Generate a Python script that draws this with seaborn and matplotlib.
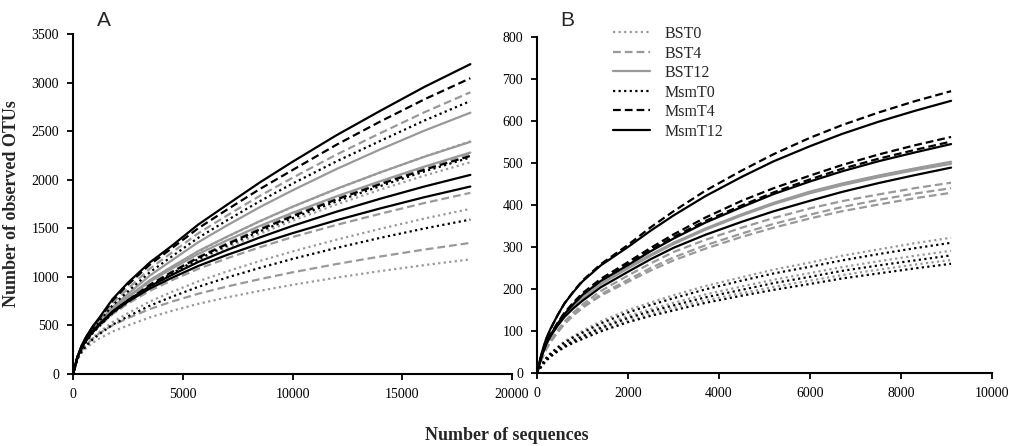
import pandas as pd
import seaborn as sns
import numpy as np
import matplotlib.pyplot as plt

# rarefaction curves
groups = ['BST0', 'BST4', 'BST12', 'MsmT0', 'MsmT4', 'MsmT12']

seqs_a = [0, 200, 400, 600, 900, 1200, 1800, 2500, 3500, 4500, 5700, 7000, 8500, 10000,
          12000, 14000, 16000, 18100]
curves_a = {
    'BST0': [[0, 170, 274, 350, 444, 520, 663, 790, 960, 1100, 1261, 1410, 1571, 1720, 1905, 2075, 2238, 2395],
             [0, 168, 265, 335, 420, 490, 620, 736, 891, 1017, 1163, 1297, 1443, 1578, 1745, 1899, 2042, 2180],
             [0, 160, 244, 305, 375, 432, 534, 625, 746, 845, 954, 1055, 1163, 1262, 1383, 1495, 1600, 1700],
             [0, 150, 220, 270, 322, 365, 437, 500, 583, 650, 722, 788, 856, 918, 992, 1060, 1121, 1180]],
    'BST4': [[0, 175, 288, 370, 475, 560, 730, 880, 1084, 1250, 1448, 1630, 1833, 2020, 2259, 2480, 2694, 2900],
             [0, 170, 272, 345, 433, 505, 640, 760, 922, 1055, 1206, 1345, 1498, 1640, 1813, 1972, 2124, 2270],
             [0, 168, 271, 345, 428, 495, 617, 725, 857, 965, 1082, 1190, 1304, 1410, 1535, 1650, 1760, 1865],
             [0, 160, 241, 300, 366, 420, 502, 575, 669, 745, 826, 900, 976, 1047, 1132, 1210, 1281, 1350]],
    'BST12': [[0, 172, 278, 355, 454, 535, 688, 823, 1014, 1170, 1356, 1528, 1717, 1891, 2110, 2313, 2505, 2690],
              [0, 172, 278, 355, 449, 525, 668, 795, 966, 1105, 1265, 1412, 1573, 1722, 1906, 2076, 2236, 2390],
              [0, 172, 278, 355, 449, 525, 665, 790, 952, 1085, 1236, 1375, 1523, 1660, 1829, 1985, 2135, 2280]],
    'MsmT0': [[0, 172, 281, 360, 462, 545, 707, 850, 1048, 1210, 1402, 1580, 1778, 1960, 2189, 2400, 2609, 2810],
              [0, 165, 264, 335, 423, 495, 628, 745, 905, 1035, 1183, 1320, 1468, 1605, 1777, 1935, 2085, 2230],
              [0, 158, 235, 290, 357, 411, 507, 593, 704, 795, 897, 992, 1092, 1185, 1298, 1402, 1498, 1590]],
    'MsmT4': [[0, 176, 293, 378, 485, 572, 756, 920, 1126, 1295, 1500, 1690, 1903, 2100, 2360, 2600, 2827, 3045],
              [0, 172, 272, 345, 433, 505, 639, 758, 918, 1048, 1198, 1336, 1486, 1625, 1797, 1955, 2103, 2245]],
    'MsmT12': [[0, 178, 298, 385, 492, 580, 771, 940, 1149, 1320, 1538, 1740, 1971, 2185, 2458, 2710, 2955, 3190],
               [0, 172, 278, 355, 443, 515, 645, 760, 903, 1020, 1153, 1275, 1405, 1525, 1671, 1805, 1930, 2050],
               [0, 172, 275, 350, 435, 505, 632, 745, 880, 990, 1112, 1225, 1342, 1450, 1583, 1705, 1820, 1930]],
}

seqs_b = [0, 100, 200, 300, 450, 600, 800, 1000, 1400, 2000, 2500, 3000, 3700, 4500, 5200,
          6000, 6700, 7500, 8300, 9100]
curves_b = {
    'BST0': [[0, 20, 36, 48, 62, 75, 88, 100, 123, 150, 168, 185, 207, 228, 246, 263, 279, 294, 309, 322],
             [0, 18, 33, 43, 56, 68, 80, 90, 111, 136, 152, 167, 187, 206, 222, 238, 252, 266, 279, 291],
             [0, 17, 30, 40, 52, 63, 74, 84, 103, 125, 141, 155, 173, 190, 205, 220, 233, 246, 258, 269]],
    'BST4': [[0, 33, 59, 78, 101, 122, 144, 163, 195, 232, 261, 288, 317, 346, 369, 392, 409, 425, 440, 453],
             [0, 32, 57, 75, 98, 118, 139, 158, 187, 222, 250, 275, 304, 332, 355, 377, 395, 412, 427, 440],
             [0, 32, 56, 74, 96, 116, 137, 155, 184, 217, 244, 268, 296, 324, 346, 368, 385, 401, 416, 429]],
    'BST12': [[0, 40, 69, 90, 115, 137, 160, 180, 213, 252, 282, 310, 344, 378, 405, 432, 451, 470, 487, 503],
              [0, 39, 67, 88, 113, 135, 158, 178, 211, 249, 279, 307, 341, 375, 402, 428, 447, 466, 483, 498]],
    'MsmT0': [[0, 19, 35, 46, 60, 72, 85, 96, 118, 144, 162, 178, 199, 220, 237, 253, 268, 283, 297, 310],
              [0, 17, 32, 42, 54, 65, 77, 87, 107, 131, 147, 161, 180, 198, 214, 229, 243, 256, 268, 280],
              [0, 16, 29, 39, 51, 61, 72, 81, 99, 121, 136, 149, 167, 184, 198, 212, 225, 237, 249, 260]],
    'MsmT4': [[0, 45, 80, 105, 137, 165, 194, 220, 259, 305, 347, 385, 434, 482, 521, 560, 590, 620, 647, 671],
              [0, 40, 70, 92, 119, 143, 168, 190, 224, 264, 298, 330, 370, 410, 440, 470, 495, 520, 542, 562],
              [0, 40, 69, 90, 117, 140, 165, 187, 220, 259, 293, 324, 362, 399, 430, 461, 486, 510, 531, 551]],
    'MsmT12': [[0, 46, 81, 106, 137, 165, 193, 218, 256, 300, 339, 375, 421, 467, 504, 540, 569, 598, 624, 648],
               [0, 41, 70, 91, 117, 140, 164, 186, 219, 257, 290, 320, 358, 395, 426, 456, 480, 504, 525, 545],
               [0, 40, 68, 88, 112, 133, 154, 172, 204, 241, 271, 298, 329, 360, 385, 410, 431, 452, 471, 489]],
}


def to_frame(seqs, curves):
    rows = []
    for g in groups:
        for i, ys in enumerate(curves[g]):
            for x, y in zip(seqs, ys):
                rows.append({'seqs': x, 'otus': y, 'group': g, 'rep': f'{g}_{i}'})
    return pd.DataFrame(rows)


dfa = to_frame(seqs_a, curves_a)
dfb = to_frame(seqs_b, curves_b)

gray = '#999999'
pal = {'BST0': gray, 'BST4': gray, 'BST12': gray,
       'MsmT0': 'black', 'MsmT4': 'black', 'MsmT12': 'black'}
dash_map = {'BST0': (1, 1.5), 'BST4': (3.5, 1.8), 'BST12': '',
            'MsmT0': (1, 1.5), 'MsmT4': (3.5, 1.8), 'MsmT12': ''}

sns.set_style('ticks')
plt.rcParams['font.family'] = ['Liberation Serif', 'DejaVu Serif']

fig = plt.figure(figsize=(10.13, 4.46), dpi=100)
ax1 = fig.add_axes([0.0721, 0.1614, 0.4334, 0.7623])
ax2 = fig.add_axes([0.5301, 0.1637, 0.4492, 0.7534])

sns.lineplot(data=dfa, x='seqs', y='otus', hue='group', style='group', units='rep',
             estimator=None, hue_order=groups, style_order=groups, palette=pal,
             dashes=dash_map, linewidth=1.6, legend=False, ax=ax1)
sns.lineplot(data=dfb, x='seqs', y='otus', hue='group', style='group', units='rep',
             estimator=None, hue_order=groups, style_order=groups, palette=pal,
             dashes=dash_map, linewidth=1.6, legend=True, ax=ax2)

ax1.set_xlim(0, 20000)
ax1.set_ylim(0, 3500)
ax1.set_xticks(np.arange(0, 20001, 5000))
ax1.set_yticks(np.arange(0, 3501, 500))
ax2.set_xlim(0, 10000)
ax2.set_ylim(0, 800)
ax2.set_xticks(np.arange(0, 10001, 2000))
ax2.set_yticks(np.arange(0, 801, 100))

for ax in (ax1, ax2):
    ax.set_xlabel('')
    ax.set_ylabel('')
    for side in ('top', 'right'):
        ax.spines[side].set_visible(False)
    for side in ('left', 'bottom'):
        ax.spines[side].set_linewidth(1.5)
        ax.spines[side].set_color('black')
    ax.tick_params(direction='out', length=4, width=1.3, labelsize=10,
                   colors='black', pad=6)

sns.move_legend(ax2, loc='upper left', bbox_to_anchor=(605 / 1013, 1 - 18 / 446),
                bbox_transform=fig.transFigure, frameon=False, title=None,
                fontsize=11.5, handlelength=2.3, handletextpad=0.9,
                labelspacing=0.22, borderpad=0)

ax1.set_ylabel('Number of observed OTUs', fontsize=13, fontweight='bold', labelpad=8)
fig.text(507 / 1013, 1 - 436 / 446, 'Number of sequences', fontsize=13,
         fontweight='bold', ha='center', va='center')
fig.text(104 / 1013, 1 - 20 / 446, 'A', fontsize=15, family='Liberation Sans',
         ha='center', va='center')
fig.text(567 / 1013, 1 - 20 / 446, 'B', fontsize=15, family='Liberation Sans',
         ha='center', va='center')

fig.savefig('out.png', dpi=100, facecolor='white')
